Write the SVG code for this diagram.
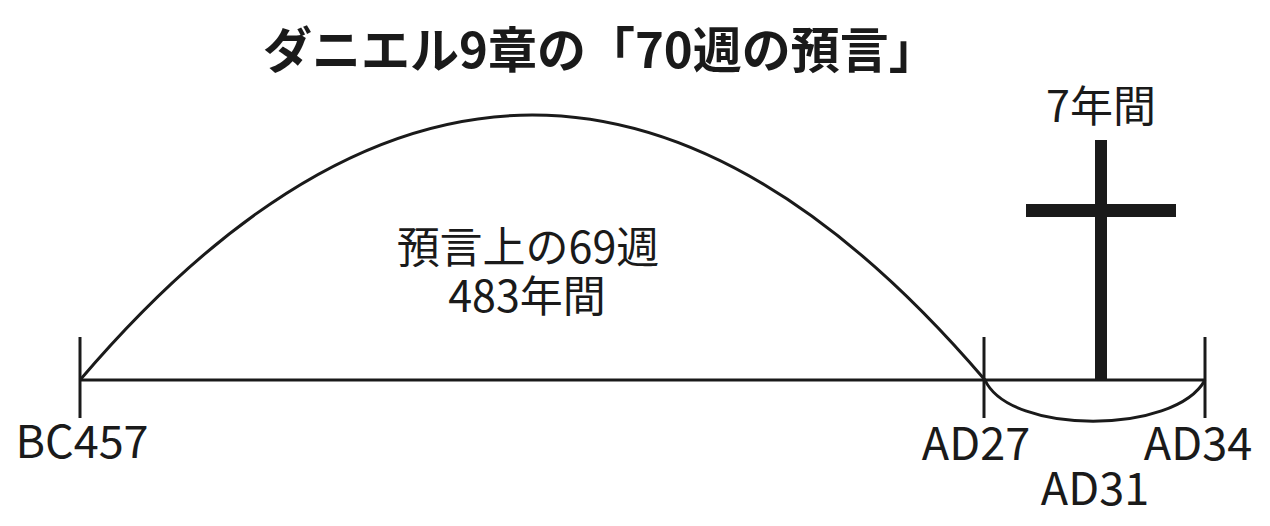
<svg xmlns="http://www.w3.org/2000/svg" width="1270" height="526" viewBox="0 0 1270 526">
<style>
.t{font-family:"Noto Sans CJK JP","Noto Sans",sans-serif;fill:#1a1a1a}
.ln{fill:none;stroke:#1a1a1a;stroke-width:3}
.bar{fill:#1a1a1a}
</style>
<rect width="1270" height="526" fill="#fff"/>
<g id="title"><text class="t" x="263" y="68" font-size="49" font-weight="bold">ダニエル9章の「70週の預言」</text></g>
<g id="connectors">
<line class="ln" x1="80" y1="380" x2="1205" y2="380"/>
<path class="ln" d="M80,380 Q532,-150 985,380"/>
<path class="ln" d="M985,380 C1010,435 1175,435 1205,380"/>
</g>
<g id="tick-bc457"><line class="ln" x1="80" y1="337" x2="80" y2="418"/><text class="t" x="82" y="458" font-size="45" text-anchor="middle">BC457</text></g>
<g id="tick-ad27"><line class="ln" x1="984" y1="337" x2="984" y2="418"/><text class="t" x="976" y="460" font-size="45" text-anchor="middle">AD27</text></g>
<g id="tick-ad34"><line class="ln" x1="1205" y1="337" x2="1205" y2="418"/><text class="t" x="1198" y="460" font-size="45" text-anchor="middle">AD34</text></g>
<g id="label-ad31"><text class="t" x="1095" y="505" font-size="45" text-anchor="middle">AD31</text></g>
<g id="cross">
<rect class="bar" x="1095" y="140" width="12" height="240"/>
<rect class="bar" x="1026" y="204" width="150" height="13"/>
</g>
<g id="label-7years"><text class="t" x="1101" y="122" font-size="43" text-anchor="middle">7年間</text></g>
<g id="label-69weeks">
<text class="t" x="528" y="263" font-size="43" text-anchor="middle">預言上の69週</text>
<text class="t" x="527" y="312" font-size="43" text-anchor="middle">483年間</text>
</g>
</svg>
